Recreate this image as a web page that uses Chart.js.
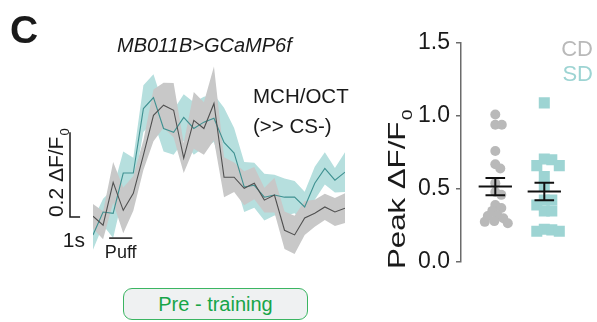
<!DOCTYPE html>
<html>
<head>
<meta charset="utf-8">
<script src="https://cdn.jsdelivr.net/npm/chart.js@4/dist/chart.umd.min.js"></script>
<style>
  body { margin: 0; background: #fff; width: 597px; height: 322px; overflow: hidden; position: relative;
         font-family: 'Liberation Sans', Arial, sans-serif; color: #1a1a1a; }
  canvas { position: absolute; left: 0; top: 0; }
  .t { position: absolute; white-space: nowrap; line-height: 1; }
  #phase { position: absolute; left: 123px; top: 288px; width: 183px; height: 30px; box-sizing: content-box;
           border: 1.5px solid #3bb562; border-radius: 9px; background: #eff1f2; color: #17a548;
           font-size: 20px; text-align: center; line-height: 30px; }
</style>
</head>
<body>
<canvas id="trace" width="597" height="322"></canvas>
<canvas id="peak" width="597" height="322"></canvas>
<div class="t" style="left:10px;top:10px;font-weight:bold;font-size:39px">C</div>
<div class="t" id="title" style="left:117px;top:35px;font-style:italic;font-size:20px"></div>
<div class="t" id="odor" style="left:253px;top:81px;font-size:20.5px;line-height:30px"></div>
<div class="t" id="legend" style="right:4px;top:36px;font-size:22px;text-align:right;line-height:25px"></div>
<div id="phase"></div>
<script>
const FAMILY = "'Liberation Sans', Arial, sans-serif";

// Texts
const TITLE = 'MB011B>GCaMP6f';
const ODOR = ['MCH/OCT', '(>> CS-)'];
const PHASE = 'Pre - training';
const GROUPS = ['CD', 'SD'];
const GROUP_COLORS = { CD: '#b9b9b9', SD: '#9dd4d3' };

// Time axis of the averaged traces (s)
const TIME_S = [0,1,2,3,4,5,6,7,8,9,10,11,12,13,14,15,16,17,18,19,20,21,22,23,24,25];
const PUFF_S = [1.6, 3.9];

// Mean ΔF/F0 trace and SEM, CD flies
const CD_TRACE = [0.002,-0.019,0.082,0.016,0.056,0.146,0.240,0.264,0.252,0.139,0.228,0.209,0.268,
                  0.094,0.094,0.068,0.080,0.040,0.052,-0.031,-0.042,-0.002,0.009,0.024,0.012,0.021];
const CD_SEM   = [0.029,0.033,0.048,0.054,0.041,0.035,0.061,0.053,0.064,0.035,0.067,0.062,0.087,
                  0.047,0.035,0.040,0.038,0.029,0.041,0.044,0.045,0.040,0.032,0.031,0.033,0.035];

// Mean ΔF/F0 trace and SEM, SD flies
const SD_TRACE = [-0.042,0.012,0.009,0.104,0.104,0.256,0.282,0.209,0.200,0.235,0.209,0.224,0.233,
                  0.176,0.151,0.071,0.075,0.047,0.052,0.047,0.047,0.024,0.080,0.115,0.087,0.106];
const SD_SEM   = [0.035,0.031,0.058,0.051,0.036,0.055,0.055,0.054,0.053,0.055,0.062,0.060,0.056,
                  0.082,0.059,0.059,0.053,0.055,0.048,0.044,0.038,0.036,0.039,0.038,0.029,0.047];

// Peak ΔF/F0 per fly
const CD_PEAK = [1.01,0.94,0.94,0.76,0.67,0.64,0.54,0.48,0.46,0.39,0.37,0.35,0.32,0.315,0.30,0.28,0.275,0.265];
const SD_PEAK = [1.09,0.705,0.70,0.66,0.66,0.585,0.52,0.425,0.425,0.39,0.35,0.35,0.225,0.22,0.21,0.21];

// Scale bar sizes
const SCALE_DFF = 0.2;
const SCALE_S = 1;
const PEAK_TICKS = [0, 0.5, 1.0, 1.5];

document.getElementById('title').textContent = TITLE;
document.getElementById('odor').innerHTML = ODOR.map(s => s.replace(/>/g, '&gt;')).join('<br>');
document.getElementById('legend').innerHTML = GROUPS.map(g => `<span style="color:${GROUP_COLORS[g]}">${g}</span>`).join('<br>');
document.getElementById('phase').textContent = PHASE;

const pts = (ys) => ys.map((v, i) => ({ x: TIME_S[i], y: v }));
const band = (m, s, sign) => m.map((v, i) => ({ x: TIME_S[i], y: v + sign * s[i] }));

// Vertical axis caption with a subscript; stretch widens it along the reading direction
function rotatedLabel(ctx, text, sub, x, yBottom, size, color, stretch = 1) {
  ctx.save();
  ctx.translate(x, yBottom);
  ctx.rotate(-Math.PI / 2);
  ctx.scale(stretch, 1);
  ctx.fillStyle = color;
  ctx.textAlign = 'left';
  ctx.textBaseline = 'alphabetic';
  ctx.font = `${size}px ${FAMILY}`;
  ctx.fillText(text, 0, 0);
  const w = ctx.measureText(text).width;
  ctx.font = `${Math.round(size * 0.62)}px ${FAMILY}`;
  ctx.fillText(sub, w + 1, size * 0.3);
  ctx.restore();
}

// Scale bars, stimulus bar and their labels for the trace panel
const traceAnnotations = {
  id: 'traceAnnotations',
  afterDatasetsDraw(chart) {
    const { ctx, scales: { x, y } } = chart;
    const x0 = x.getPixelForValue(TIME_S[0]) - 23;
    const yb = y.getPixelForValue(0);
    const yt = y.getPixelForValue(SCALE_DFF);
    const sec = x.getPixelForValue(SCALE_S) - x.getPixelForValue(0);
    ctx.save();
    ctx.strokeStyle = '#1a1a1a';
    ctx.lineWidth = 1.5;
    ctx.beginPath();
    ctx.moveTo(x0, yt); ctx.lineTo(x0, yb); ctx.lineTo(x0 + sec, yb);
    ctx.stroke();
    // puff bar
    const py = yb + 21;
    ctx.beginPath();
    ctx.moveTo(x.getPixelForValue(PUFF_S[0]), py);
    ctx.lineTo(x.getPixelForValue(PUFF_S[1]), py);
    ctx.stroke();
    ctx.fillStyle = '#1a1a1a';
    ctx.textBaseline = 'alphabetic';
    ctx.font = `18px ${FAMILY}`;
    ctx.textAlign = 'center';
    ctx.fillText('Puff', (x.getPixelForValue(PUFF_S[0]) + x.getPixelForValue(PUFF_S[1])) / 2, py + 20);
    ctx.font = `21px ${FAMILY}`;
    ctx.textAlign = 'right';
    ctx.fillText(SCALE_S + 's', x0 + 15, yb + 30);
    ctx.restore();
    rotatedLabel(ctx, SCALE_DFF.toFixed(1) + ' ΔF/F', '0', x0 - 7, yb, 21, '#1a1a1a');
  }
};

new Chart(document.getElementById('trace'), {
  type: 'line',
  data: {
    datasets: [
      { data: band(SD_TRACE, SD_SEM, -1), borderWidth: 0, fill: false, order: 4 },
      { data: band(SD_TRACE, SD_SEM, 1), borderWidth: 0, fill: '-1', backgroundColor: '#b6dfde', order: 4 },
      { data: band(CD_TRACE, CD_SEM, -1), borderWidth: 0, fill: false, order: 3 },
      { data: band(CD_TRACE, CD_SEM, 1), borderWidth: 0, fill: '-1', backgroundColor: '#c8c8c8', order: 3 },
      { label: 'SD', data: pts(SD_TRACE), borderColor: '#3f9191', borderWidth: 1.1, fill: false, order: 2 },
      { label: 'CD', data: pts(CD_TRACE), borderColor: '#505050', borderWidth: 1.1, fill: false, order: 1 }
    ]
  },
  options: {
    responsive: false, animation: false, events: [],
    layout: { padding: { left: 93, right: 252, top: 47.5, bottom: 62.5 } },
    elements: { point: { radius: 0 }, line: { tension: 0 } },
    scales: {
      x: { type: 'linear', min: TIME_S[0], max: TIME_S[TIME_S.length - 1], display: false },
      y: { min: -0.1, max: 0.4, display: false }
    },
    plugins: { legend: { display: false }, tooltip: { enabled: false } }
  },
  plugins: [traceAnnotations]
});

// Mean and SEM of a group
function stats(v) {
  const n = v.length;
  const m = v.reduce((a, b) => a + b, 0) / n;
  const sd = Math.sqrt(v.reduce((a, b) => a + (b - m) * (b - m), 0) / (n - 1));
  return { m, sem: sd / Math.sqrt(n) };
}
const errorBar = (c, s) => [
  { type: 'line', data: [{ x: c - 0.34, y: s.m }, { x: c + 0.34, y: s.m }] },
  { type: 'line', data: [{ x: c - 0.2, y: s.m + s.sem }, { x: c + 0.2, y: s.m + s.sem }] },
  { type: 'line', data: [{ x: c - 0.2, y: s.m - s.sem }, { x: c + 0.2, y: s.m - s.sem }] },
  { type: 'line', data: [{ x: c, y: s.m - s.sem }, { x: c, y: s.m + s.sem }] }
].map(d => Object.assign(d, { borderColor: '#111', borderWidth: 2, pointRadius: 0, order: 0 }));

const peakAxisLabel = {
  id: 'peakAxisLabel',
  afterDraw(chart) {
    const y = chart.scales.y;
    rotatedLabel(chart.ctx, 'Peak ΔF/F', '0', 405, y.getPixelForValue(0) + 7, 24, '#1a1a1a', 1.3);
  }
};

const peak = new Chart(document.getElementById('peak'), {
  type: 'scatter',
  data: {
    datasets: [
      { label: 'CD', data: CD_PEAK.map(v => ({ x: 0, y: v })), pointStyle: 'circle', pointRadius: 5,
        backgroundColor: GROUP_COLORS.CD, borderWidth: 0, order: 2 },
      { label: 'SD', data: SD_PEAK.map(v => ({ x: 1, y: v })), pointStyle: 'rect', pointRadius: 7.8,
        backgroundColor: GROUP_COLORS.SD, borderWidth: 0, order: 2 },
      ...errorBar(0, stats(CD_PEAK)),
      ...errorBar(1, stats(SD_PEAK))
    ]
  },
  options: {
    responsive: false, animation: false, events: [],
    layout: { padding: { left: 370, right: 13.5, top: 43, bottom: 60 } },
    scales: {
      x: { type: 'linear', min: -0.7, max: 1.8, display: false },
      y: {
        min: 0, max: 1.5,
        afterFit(s) { s.width = 91; },
        afterBuildTicks(s) { s.ticks = PEAK_TICKS.map(v => ({ value: v })); },
        border: { display: true, color: '#6b6b6b', width: 1.5 },
        grid: { drawOnChartArea: false, drawTicks: true, tickLength: 5, color: '#6b6b6b', lineWidth: 1.5 },
        ticks: { callback: v => Number(v).toFixed(1), font: { size: 23, family: FAMILY }, color: '#1a1a1a', padding: 6 }
      }
    },
    plugins: { legend: { display: false }, tooltip: { enabled: false } }
  },
  plugins: [peakAxisLabel]
});

// Spread overlapping points sideways (beeswarm) using the chart's own scales
function swarm(values, center, minDist, square) {
  const xs = peak.scales.x, ys = peak.scales.y;
  const cx = xs.getPixelForValue(center);
  const placed = [];
  const out = new Array(values.length);
  values.forEach((v, i) => {
    const py = ys.getPixelForValue(v);
    for (let k = 0; k < 400; k++) {
      const off = (k % 2 ? 1 : -1) * Math.ceil(k / 2) * 0.5;
      const px = cx + off;
      const clash = placed.some(p => square
        ? Math.max(Math.abs(p.x - px), Math.abs(p.y - py)) < minDist
        : Math.hypot(p.x - px, p.y - py) < minDist);
      if (!clash) { placed.push({ x: px, y: py }); out[i] = { x: xs.getValueForPixel(px), y: v }; break; }
    }
  });
  return out;
}
peak.data.datasets[0].data = swarm(CD_PEAK, 0, 6.5, false);
peak.data.datasets[1].data = swarm(SD_PEAK, 1, 7.5, true);
peak.update('none');
</script>
</body>
</html>
